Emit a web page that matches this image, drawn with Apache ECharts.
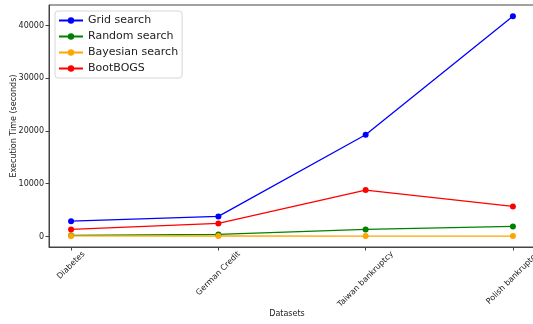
<!DOCTYPE html>
<html>
<head>
<meta charset="utf-8">
<script src="https://cdn.jsdelivr.net/npm/echarts@6/dist/echarts.min.js"></script>
<style>
  html, body { margin: 0; padding: 0; background: #fff; }
  #chart { width: 533px; height: 324px; }
</style>
</head>
<body>
<div id="chart"></div>
<script>
// datasets on the x axis
const datasets = ['Diabetes', 'German Credit', 'Taiwan bankruptcy', 'Polish bankruptcy']
// execution time in seconds
const gridSearch = [2900, 3800, 19300, 41750]
const randomSearch = [190, 380, 1330, 1900]
const bayesianSearch = [100, 90, 80, 80]
const bootBogs = [1330, 2470, 8800, 5700]
const yTicks = [0, 10000, 20000, 30000, 40000]

const font = 'DejaVu Sans'
const labelSize = 8

function toPoints(arr) {
  return arr.map((v, i) => [i, v])
}

function lineSeries(name, color, values) {
  return {
    name: name,
    type: 'line',
    data: toPoints(values),
    symbol: 'circle',
    symbolSize: 6,
    color: color,
    lineStyle: { color: color, width: 1.3 },
    itemStyle: { color: color },
    animation: false
  }
}

// rotated labels centred under the tick (like ha='center'), the whole
// rotated box starting just below the axis: push each one down by padding
const ctx = document.createElement('canvas').getContext('2d')
ctx.font = labelSize + 'px "' + font + '"'
const rich = {}
datasets.forEach((d, i) => {
  const w = ctx.measureText(d).width
  const half = (w + labelSize * 1.15) * 0.3535
  const p = (2.5 + half) / 0.707
  rich['s' + i] = {
    fontFamily: font,
    fontSize: labelSize,
    color: '#222',
    padding: [p, p, 0, 0]
  }
})

const myChart = echarts.init(document.getElementById('chart'))
const option = {
  animation: false,
  grid: {
    left: 49, top: 5, right: -2, bottom: 77,
    outerBoundsMode: 'none',
    containLabel: false,
    show: true, borderColor: '#444', borderWidth: 1
  },
  legend: {
    orient: 'vertical',
    left: 55,
    top: 11,
    padding: [2, 4, 2, 3],
    itemGap: 1,
    itemWidth: 24,
    itemHeight: 8,
    borderColor: '#d6d6d6',
    borderWidth: 1,
    borderRadius: 3,
    backgroundColor: 'rgba(255,255,255,0.8)',
    textStyle: { fontFamily: font, fontSize: 11, color: '#222', lineHeight: 15 },
    data: ['Grid search', 'Random search', 'Bayesian search', 'BootBOGS']
  },
  xAxis: {
    type: 'value',
    min: -0.15,
    max: 3.15,
    name: 'Datasets',
    nameLocation: 'middle',
    nameGap: 63,
    nameMoveOverlap: false,
    nameTextStyle: { fontFamily: font, fontSize: 8, color: '#222', padding: [0, 10, 0, 0] },
    splitLine: { show: false },
    axisLine: { onZero: false, lineStyle: { color: '#444' } },
    axisTick: { customValues: [0, 1, 2, 3], length: 3.5, lineStyle: { color: '#444' } },
    axisLabel: {
      customValues: [0, 1, 2, 3],
      rotate: 45,
      align: 'center',
      verticalAlign: 'middle',
      fontFamily: font,
      fontSize: labelSize,
      color: '#222',
      margin: 0,
      hideOverlap: false,
      formatter: v => {
        const i = Math.round(v)
        return '{s' + i + '|' + datasets[i] + '}'
      },
      rich: rich
    }
  },
  yAxis: {
    type: 'value',
    min: -2000,
    max: 43900,
    name: 'Execution Time (seconds)',
    nameLocation: 'middle',
    nameGap: 31,
    nameMoveOverlap: false,
    nameTextStyle: { fontFamily: font, fontSize: 8, color: '#222' },
    splitLine: { show: false },
    axisLine: { show: true, onZero: false, lineStyle: { color: '#444' } },
    axisTick: { show: true, customValues: yTicks, length: 3.5, lineStyle: { color: '#444' } },
    axisLabel: {
      customValues: yTicks,
      fontFamily: font,
      fontSize: 8,
      color: '#222',
      margin: 5,
      formatter: v => String(v)
    }
  },
  series: [
    lineSeries('Grid search', '#0000ff', gridSearch),
    lineSeries('Random search', '#008000', randomSearch),
    lineSeries('Bayesian search', '#ffa500', bayesianSearch),
    lineSeries('BootBOGS', '#ff0000', bootBogs)
  ]
}
myChart.setOption(option)
</script>
</body>
</html>
